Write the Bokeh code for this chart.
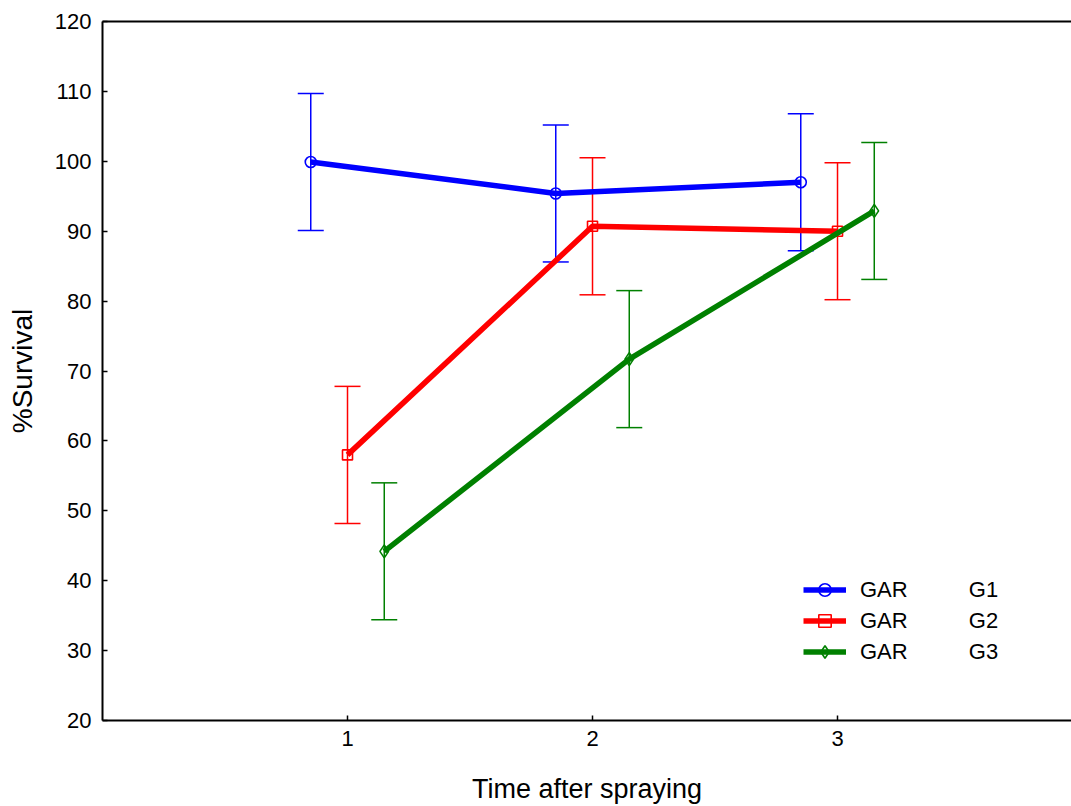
from bokeh.plotting import figure
from bokeh.models import (ColumnDataSource, Whisker, TeeHead, Legend, LegendItem,
                          LinearAxis, FixedTicker, Range1d)
from bokeh.embed import file_html
from bokeh.resources import INLINE

# Survival (%) at each time point after spraying, mean and error half-width
times = [1, 2, 3]
groups = ["G1", "G2", "G3"]
treatment = "GAR"
survival = {
    "G1": [99.9, 95.4, 97.0],
    "G2": [58.0, 90.7, 90.0],
    "G3": [44.2, 71.7, 92.9],
}
error = {
    "G1": [9.8, 9.8, 9.8],
    "G2": [9.8, 9.8, 9.8],
    "G3": [9.8, 9.8, 9.8],
}
y_ticks = [20, 30, 40, 50, 60, 70, 80, 90, 100, 110, 120]

# styling per group
colors = {"G1": "#0000FF", "G2": "#FF0000", "G3": "#008000"}
markers = {"G1": "circle", "G2": "square", "G3": "diamond"}
marker_sizes = {"G1": 11, "G2": 10, "G3": 13}
dodge = {"G1": -0.15, "G2": 0.0, "G3": 0.15}

FONT = "Liberation Sans"

p = figure(width=1071, height=806, output_backend="svg", toolbar_location=None,
           x_range=Range1d(0, 3.955), y_range=Range1d(20, 120),
           min_border_left=102, min_border_right=0, min_border_top=21,
           min_border_bottom=86, outline_line_color=None)
p.grid.visible = False
p.background_fill_color = "white"
p.border_fill_color = "white"

legend_items = []
for g in groups:
    xs = [t + dodge[g] for t in times]
    ys = survival[g]
    src = ColumnDataSource(dict(
        x=xs, y=ys,
        upper=[v + e for v, e in zip(ys, error[g])],
        lower=[v - e for v, e in zip(ys, error[g])],
    ))
    w = Whisker(source=src, base="x", upper="upper", lower="lower",
                line_color=colors[g], line_width=1.5,
                upper_head=TeeHead(size=26, line_color=colors[g], line_width=1.5),
                lower_head=TeeHead(size=26, line_color=colors[g], line_width=1.5))
    p.add_layout(w)
    ln = p.line("x", "y", source=src, line_color=colors[g], line_width=5.5)
    mk = p.scatter("x", "y", source=src, marker=markers[g], size=marker_sizes[g],
                   line_color=colors[g], line_width=1.6, fill_color=None)
    label = treatment + "\u00a0" * 10 + g
    legend_items.append(LegendItem(label=label, renderers=[ln, mk]))

legend = Legend(items=legend_items, location=(701, 53), padding=0, margin=0,
                border_line_color=None, background_fill_alpha=0,
                glyph_width=43, glyph_height=31, spacing=0, label_standoff=14,
                label_text_font=FONT, label_text_font_size="22px",
                label_text_color="black", label_height=31)
p.add_layout(legend)

# axes
for ax in (p.xaxis[0], p.yaxis[0]):
    ax.axis_line_width = 2
    ax.axis_line_color = "black"
    ax.major_tick_in = 5
    ax.major_tick_out = 0
    ax.major_tick_line_width = 1.5
    ax.minor_tick_line_color = None
    ax.major_label_text_font = FONT
    ax.major_label_text_font_size = "22px"
    ax.major_label_text_color = "black"
    ax.axis_label_text_font = FONT
    ax.axis_label_text_font_style = "normal"
    ax.axis_label_text_color = "black"

p.xaxis.ticker = FixedTicker(ticks=times)
p.xaxis.major_label_standoff = 10
p.xaxis.axis_label = "Time after spraying"
p.xaxis.axis_label_text_font_size = "27px"
p.xaxis.axis_label_standoff = 25

p.yaxis.ticker = FixedTicker(ticks=y_ticks)
p.yaxis.major_label_standoff = 11
p.yaxis.axis_label = "%Survival"
p.yaxis.axis_label_text_font_size = "28px"
p.yaxis.axis_label_standoff = 14

top = LinearAxis(axis_line_width=2, axis_line_color="black",
                 major_tick_line_color=None, minor_tick_line_color=None,
                 major_label_text_font_size="0px", ticker=FixedTicker(ticks=[]))
p.add_layout(top, "above")
p.min_border_top = 21

open("out.html", "w").write(file_html(p, INLINE))
